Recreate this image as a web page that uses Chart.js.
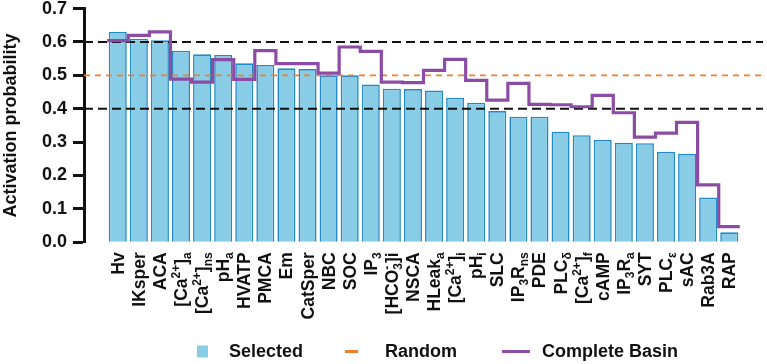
<!DOCTYPE html>
<html>
<head>
<meta charset="utf-8">
<script src="https://cdn.jsdelivr.net/npm/chart.js@4.4.0/dist/chart.umd.min.js"></script>
<style>
  html, body { margin: 0; padding: 0; background: #fff; }
  #wrap { width: 767px; height: 364px; }
</style>
</head>
<body>
<div id="wrap"><canvas id="myChart"></canvas></div>
<script>
// подписи параметров: ^{..} верхний индекс, _{..} нижний
const labels = [
  'Hv', 'IKsper', 'ACA', '[Ca^{2+}]_{a}', '[Ca^{2+}]_{ns}', 'pH_{a}', 'HVATP', 'PMCA',
  'Em', 'CatSper', 'NBC', 'SOC', 'IP_{3}', '[HCO^{-}_{3}]i', 'NSCA', 'HLeak_{a}',
  '[Ca^{2+}]_{i}', 'pH_{i}', 'SLC', 'IP_{3}R_{ns}', 'PDE', 'PLC_{δ}', '[Ca^{2+}]_{f}', 'cAMP',
  'IP_{3}R_{a}', 'SYT', 'PLC_{ε}', 'sAC', 'Rab3A', 'RAP'
];

// столбцы "Selected"
const selected = [
  0.630, 0.610, 0.605, 0.574, 0.563, 0.561, 0.536, 0.531, 0.521, 0.519,
  0.500, 0.500, 0.473, 0.460, 0.459, 0.455, 0.433, 0.418, 0.393, 0.376,
  0.376, 0.331, 0.321, 0.307, 0.298, 0.297, 0.271, 0.265, 0.134, 0.030
];

// ступенчатая линия "Complete Basin"
const completeBasin = [
  0.604, 0.620, 0.630, 0.489, 0.480, 0.547, 0.488, 0.574, 0.535, 0.535,
  0.507, 0.585, 0.572, 0.480, 0.478, 0.515, 0.548, 0.485, 0.426, 0.476,
  0.413, 0.412, 0.406, 0.440, 0.388, 0.315, 0.327, 0.359, 0.172, 0.047
];

const randomLevel = 0.5;
const guideLevels = [0.6, 0.4];

const fam = '"Liberation Sans", Arial, sans-serif';
const barFill = 'rgb(137, 204, 230)';
const barEdge = 'rgb(35, 138, 197)';
const orange = 'rgb(240, 128, 48)';
const purple = 'rgb(140, 76, 166)';

// границы оси x (индексы категорий)
const xMin = -1.6, xMax = 30.6;

// точки для ступенек: края первой и последней категории
const basinPoints = [{ x: -0.5, y: completeBasin[0] }]
  .concat(completeBasin.map((v, i) => ({ x: i, y: v })))
  .concat([{ x: completeBasin.length - 0.5, y: completeBasin[completeBasin.length - 1] }]);

function parseLabel(s) {
  const out = [];
  const re = /([\^_])\{([^}]*)\}|([^\^_]+)/g;
  let m;
  while ((m = re.exec(s))) {
    if (m[3]) out.push({ text: m[3], mode: 0 });
    else out.push({ text: m[2], mode: m[1] === '^' ? 1 : -1 });
  }
  return out;
}

// подписи категорий с индексами, повёрнутые на 90°
const richLabels = {
  id: 'richLabels',
  afterDraw(chart) {
    const { ctx, chartArea } = chart;
    const xs = chart.scales.x;
    const big = 'bold 17.5px ' + fam;
    const small = 'bold 12px ' + fam;
    labels.forEach((s, i) => {
      const segs = parseLabel(s);
      const placed = [];
      let w = 0;
      segs.forEach((sg, k) => {
        ctx.font = sg.mode ? small : big;
        const tw = ctx.measureText(sg.text).width;
        let sx = w;
        if (sg.mode === -1 && k > 0 && segs[k - 1].mode === 1) sx = placed[k - 1].x;
        w = Math.max(w, sx + tw);
        placed.push({ text: sg.text, mode: sg.mode, x: sx });
      });
      ctx.save();
      ctx.translate(xs.getPixelForValue(i), chartArea.bottom + 10);
      ctx.rotate(-Math.PI / 2);
      ctx.fillStyle = '#111';
      ctx.textBaseline = 'alphabetic';
      ctx.textAlign = 'left';
      placed.forEach(p => {
        ctx.font = p.mode ? small : big;
        const dy = p.mode === 1 ? -7 : p.mode === -1 ? 4 : 0;
        ctx.fillText(p.text, -w + p.x, 6 + dy);
      });
      ctx.restore();
    });
  }
};

// легенда внизу
const legendItems = [
  { text: 'Selected', kind: 'box', color: barFill, x: 197, w: 11, tx: 229 },
  { text: 'Random', kind: 'line', color: orange, x: 345, w: 13, tx: 385 },
  { text: 'Complete Basin', kind: 'line', color: purple, x: 502, w: 28, tx: 542 }
];
const bottomLegend = {
  id: 'bottomLegend',
  afterDraw(chart) {
    const ctx = chart.ctx;
    const y = 351.5;
    ctx.save();
    ctx.font = 'bold 18px ' + fam;
    ctx.textBaseline = 'middle';
    legendItems.forEach(it => {
      ctx.fillStyle = it.color;
      if (it.kind === 'box') ctx.fillRect(it.x, y - 6, it.w, 12);
      else ctx.fillRect(it.x, y - 1.5, it.w, 3);
      ctx.fillStyle = '#111';
      ctx.fillText(it.text, it.tx, y + 1);
    });
    ctx.restore();
  }
};

const ctx = document.getElementById('myChart').getContext('2d');
const chart = new Chart(ctx, {
  type: 'bar',
  data: {
    datasets: [
      {
        type: 'line',
        label: 'Complete Basin',
        data: basinPoints,
        borderColor: purple,
        borderWidth: 3.2,
        stepped: 'middle',
        pointRadius: 0,
        borderJoinStyle: 'miter',
        fill: false,
        order: 1
      },
      {
        type: 'line',
        label: 'Random',
        data: [{ x: xMin, y: randomLevel }, { x: xMax, y: randomLevel }],
        borderColor: orange,
        borderWidth: 1.6,
        borderDash: [6, 5],
        pointRadius: 0,
        fill: false,
        order: 2
      },
      ...guideLevels.map(v => ({
        type: 'line',
        label: 'guide',
        data: [{ x: xMin, y: v }, { x: xMax, y: v }],
        borderColor: '#111',
        borderWidth: 2,
        borderDash: [9, 5],
        pointRadius: 0,
        fill: false,
        order: 2
      })),
      {
        type: 'bar',
        label: 'Selected',
        data: selected.map((v, i) => ({ x: i, y: v })),
        backgroundColor: barFill,
        borderColor: barEdge,
        borderWidth: 1.6,
        categoryPercentage: 1,
        barPercentage: 0.855,
        order: 3
      }
    ]
  },
  options: {
    responsive: true,
    maintainAspectRatio: false,
    animation: false,
    layout: { padding: { left: 0, right: 4, top: 8.6, bottom: 121.7 } },
    plugins: {
      legend: { display: false },
      tooltip: { enabled: false }
    },
    scales: {
      x: {
        type: 'linear',
        min: xMin,
        max: xMax,
        offset: false,
        grid: { offset: false },
        display: false
      },
      y: {
        min: 0,
        max: 0.7,
        afterFit: (scale) => {
          scale.width = 84;
          scale.paddingTop = 0;
          scale.paddingBottom = 0;
        },
        border: { display: true, color: '#111', width: 3 },
        grid: {
          drawOnChartArea: false,
          drawTicks: true,
          tickLength: 11,
          tickWidth: 3,
          tickColor: '#111',
          color: '#111'
        },
        ticks: {
          stepSize: 0.1,
          padding: 6,
          color: '#111',
          font: { family: fam, size: 18, weight: 'bold' },
          callback: (v) => v.toFixed(1)
        },
        title: {
          display: true,
          text: 'Activation probability',
          color: '#111',
          padding: 0,
          font: { family: fam, size: 18, weight: 'bold' }
        }
      }
    }
  },
  plugins: [richLabels, bottomLegend]
});
</script>
</body>
</html>
